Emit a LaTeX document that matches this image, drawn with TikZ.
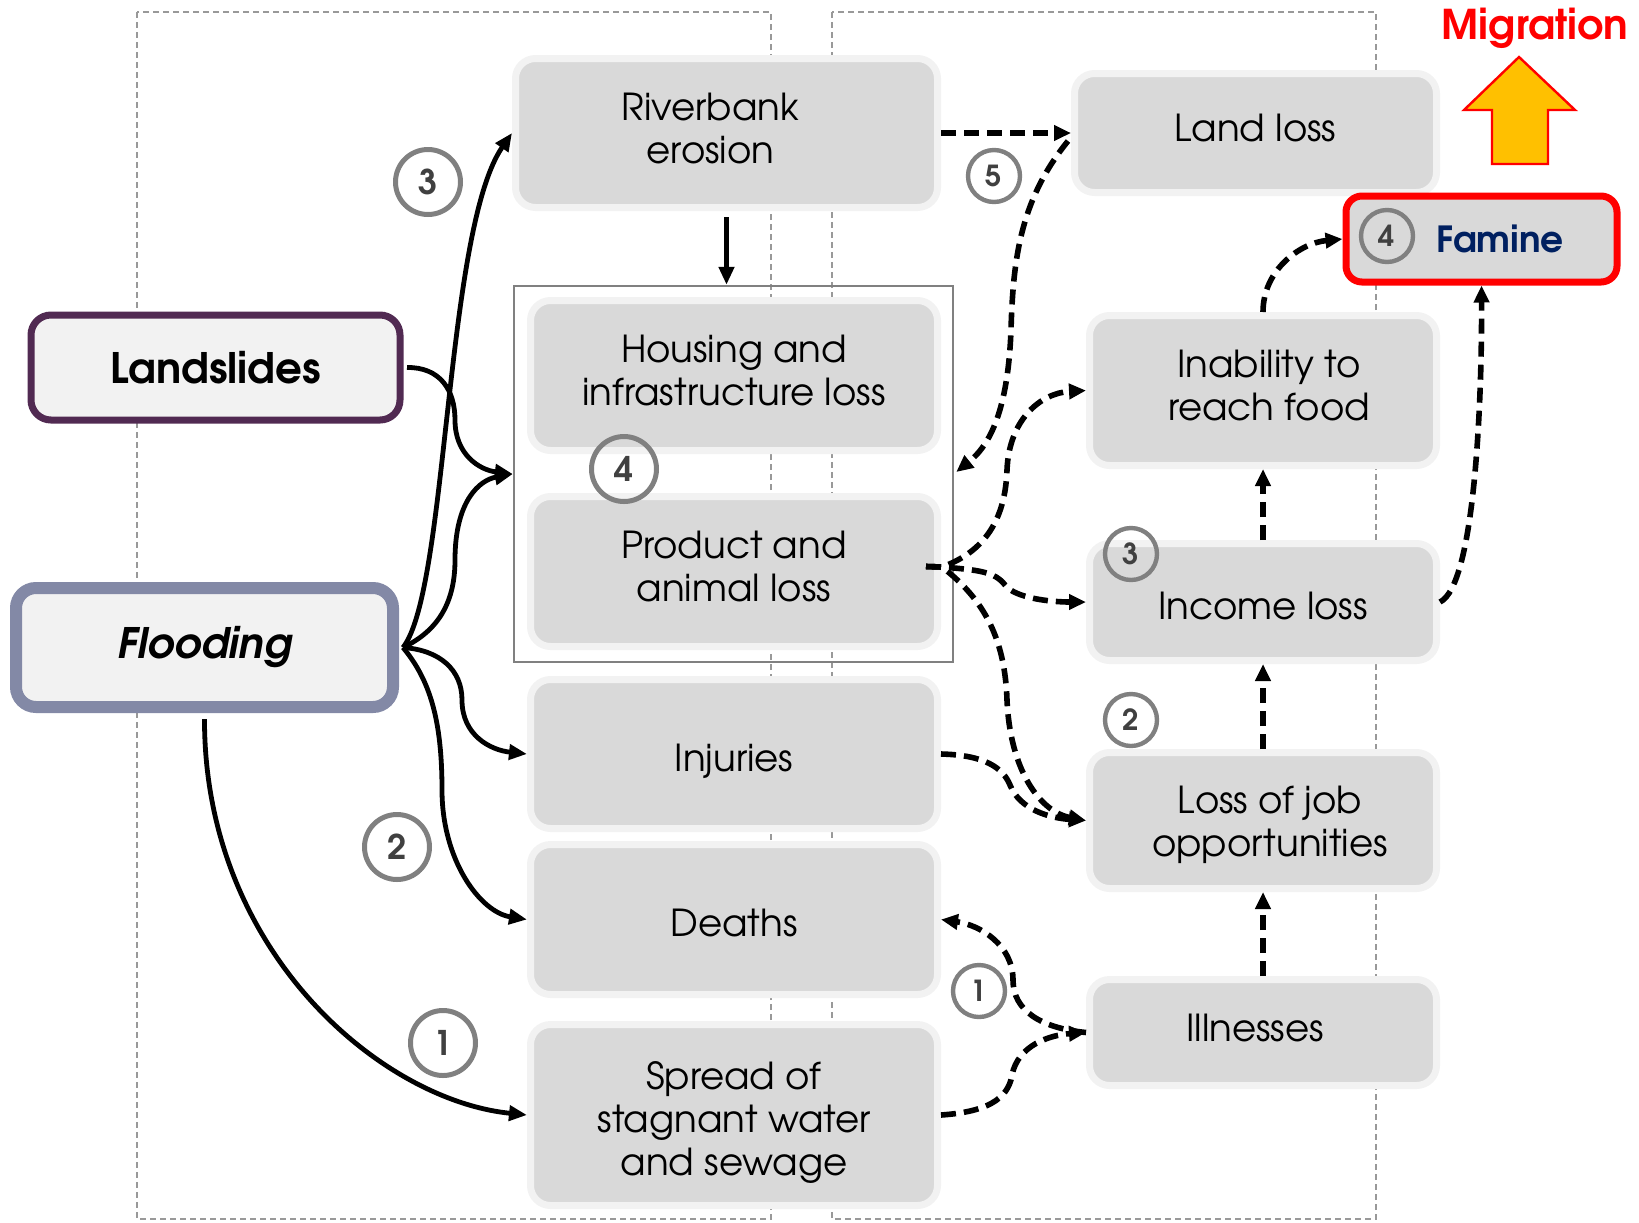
\documentclass[tikz,border=0pt]{standalone}
\usepackage{fontspec}
\setmainfont{texgyreadventor}[Extension=.otf, UprightFont=*-regular, BoldFont=*-bold, ItalicFont=*-italic, BoldItalicFont=*-bolditalic]
\usetikzlibrary{arrows.meta,calc}
\definecolor{boxgray}{HTML}{D9D9D9}
\definecolor{boxborder}{HTML}{F2F2F2}
\definecolor{numgray}{HTML}{808080}
\definecolor{numtext}{HTML}{404040}
\definecolor{lspurple}{HTML}{512A52}
\definecolor{flslate}{HTML}{8389A6}
\definecolor{navyblue}{HTML}{002060}
\definecolor{migred}{HTML}{FF0000}
\definecolor{arrowyellow}{HTML}{FFC000}
\definecolor{panelgray}{HTML}{999999}
\newcommand\mainsz{\fontsize{18.6}{21.5}\selectfont}
\newsavebox\btbox
% #1 horizontal shift, #2 vertical raise (box size kept), #3 lines
\newcommand\btxt[3]{\sbox\btbox{\begin{tabular}{@{}c@{}}#3\end{tabular}}\kern#1\raisebox{#2}[\ht\btbox][\dp\btbox]{\usebox\btbox}\kern-#1}
\tikzset{
  box/.style={rectangle, rounded corners=10pt, fill=boxgray, draw=boxborder, line width=3.5pt, align=center, font=\mainsz, inner sep=0pt},
  srcbox/.style={rectangle, rounded corners=10pt, fill=boxborder, align=center, inner sep=0pt, font=\fontsize{21}{24}\selectfont\bfseries},
  numbig/.style={circle, draw=numgray, line width=2.5pt, minimum size=32.5pt, inner sep=0pt, text=numtext, font=\fontsize{17}{17}\selectfont\bfseries},
  numsmall/.style={circle, draw=numgray, line width=2.2pt, minimum size=26pt, inner sep=0pt, text=numtext, font=\fontsize{14.5}{14.5}\selectfont\bfseries},
  panel/.style={draw=panelgray, line width=0.9pt, dash pattern=on 3pt off 2pt},
  sarrow/.style={draw=black, line width=2.4pt, -{Triangle[length=9pt,width=7.5pt]}},
  darrow/.style={draw=black, line width=2.8pt, dash pattern=on 7.5pt off 4pt, -{Triangle[length=8.5pt,width=7.5pt]}}
}
\begin{document}
\begin{tikzpicture}[x=0.5pt,y=-0.5pt]
\useasboundingbox (0,0) rectangle (1639,1222);
% panels
\draw[panel] (137,12) rectangle (771,1219);
\draw[panel] (832,12) rectangle (1376,1219);
% container
\node[draw=numgray, line width=1.2pt, minimum width=219.5pt, minimum height=188pt, inner sep=0pt] (cont) at (733.5,474) {};
% middle boxes
\node[box, minimum width=211pt, minimum height=74.5pt] (river) at (726.5,133) {\btxt{-8pt}{0pt}{Riverbank\\erosion}};
\node[box, minimum width=203.5pt, minimum height=75pt] (house) at (734,375.5) {\btxt{0pt}{0pt}{Housing and\\infrastructure loss}};
\node[box, minimum width=203.5pt, minimum height=75pt] (prod) at (734,571.5) {\btxt{0pt}{0pt}{Product and\\animal loss}};
\node[box, minimum width=203.5pt, minimum height=74.5pt] (inj) at (734,754) {\btxt{0pt}{-4.2pt}{Injuries}};
\node[box, minimum width=203.5pt, minimum height=75pt] (death) at (734,919.5) {\btxt{0pt}{-4.2pt}{Deaths}};
\node[box, minimum width=203.5pt, minimum height=90.5pt] (spread) at (734,1115) {\btxt{0pt}{-4.2pt}{Spread of\\stagnant water\\and sewage}};
% right boxes
\node[box, minimum width=181pt, minimum height=59.5pt] (land) at (1255.5,133) {\btxt{0pt}{0pt}{Land loss}};
\node[box, minimum width=173.5pt, minimum height=75pt] (inab) at (1263,390.5) {\btxt{3pt}{0pt}{Inability to\\reach food}};
\node[box, minimum width=173.5pt, minimum height=58.5pt] (inc) at (1263,602) {\btxt{0pt}{-4.2pt}{Income loss}};
\node[box, minimum width=173.5pt, minimum height=68pt] (job) at (1263,820.5) {\btxt{3.5pt}{-3.1pt}{Loss of job\\opportunities}};
\node[box, minimum width=173.5pt, minimum height=53pt] (ill) at (1263,1032.5) {\btxt{-4pt}{0pt}{Illnesses}};
% sources
\node[srcbox, draw=lspurple, line width=3.5pt, minimum width=184.5pt, minimum height=52.5pt] (lands) at (215.5,367.5) {Landslides};
\node[srcbox, draw=flslate, line width=6pt, minimum width=188.5pt, minimum height=59.5pt] (flood) at (204.5,647.5) {\itshape Flooding};
% famine
\node[rectangle, rounded corners=8pt, draw=migred, fill=boxgray, line width=3.5pt, minimum width=135.5pt, minimum height=43pt] (fam) at (1481.5,239) {};
\node[text=navyblue, font=\fontsize{18}{18}\selectfont\bfseries] (famtxt) at (1500,239) {Famine};
\node[numsmall] (c4b) at (1387,236) {4};
% migration
\node[text=migred, font=\fontsize{20.5}{20.5}\selectfont\bfseries] (mig) at (1535,28) {Migration};
\draw[fill=arrowyellow, draw=migred, line width=1.2pt] (1519,57) -- (1575,110) -- (1548,110) -- (1548,164) -- (1492,164) -- (1492,110) -- (1464,110) -- cycle;
% numbered circles
\node[numbig] (c3) at (428,182) {3};
\node[numsmall] (c5) at (994,176) {5};
\node[numbig] (c4) at (624,469) {4};
\node[numsmall] (c3b) at (1131,554) {3};
\node[numsmall] (c2b) at (1131,720) {2};
\node[numbig] (c2) at (397,847) {2};
\node[numbig] (c1) at (443,1043) {1};
\node[numsmall] (c1b) at (979,991) {1};
% helper coordinates
\coordinate (fe) at ($(flood.east)+(4,0)$);
\coordinate (fs) at ($(flood.south)+(0,6)$);
\coordinate (le) at ($(lands.east)+(3.5,0)$);
\coordinate (rs) at ($(river.south)+(0,6)$);
\coordinate (ce) at ($(cont.east)+(2,-2)$);
\coordinate (ps) at ($(prod.east)+(-15,-5)$);
\coordinate (pj) at (942,567);
\coordinate (lw) at ($(land.west)+(-3,8)$);
% solid connectors
\draw[sarrow] (fe) .. controls (448,590) and (445,230) .. (river.west);
\draw[sarrow] (le) .. controls (440,367) and (455,390) .. (455,420) .. controls (455,455) and (480,470) .. (cont.west);
\draw[sarrow] (fe) .. controls (440,630) and (455,600) .. (455,560) .. controls (455,500) and (480,480) .. (cont.west);
\draw[sarrow] (fe) .. controls (440,650) and (462,670) .. (462,700) .. controls (462,735) and (490,750) .. (inj.west);
\draw[sarrow] (fe) .. controls (430,680) and (442,720) .. (442,790) .. controls (442,860) and (480,912) .. (death.west);
\draw[sarrow] (fs) .. controls (204,950) and (380,1100) .. (spread.west);
\draw[sarrow] (rs) -- (rs |- cont.north);
% dashed connectors
\draw[darrow] (river.east) -- (land.west);
\draw[darrow] (lw) .. controls (1020,200) and (1013,260) .. (1011,330) .. controls (1008,410) and (990,445) .. (ce);
\draw[darrow] (ps) -- (pj) .. controls (975,555) and (1005,530) .. (1007,470) .. controls (1009,420) and (1040,393) .. (inab.west);
\draw[darrow] (ps) -- (pj) .. controls (980,570) and (995,572) .. (1005,585) .. controls (1015,598) and (1050,602) .. (inc.west);
\draw[darrow] (ps) -- (pj) .. controls (985,600) and (1005,640) .. (1007,700) .. controls (1010,770) and (1040,812) .. (job.west);
\draw[darrow] (inj.east) .. controls (985,755) and (1003,768) .. (1010,785) .. controls (1020,810) and (1050,818) .. (job.west);
\draw[darrow] (ill.west) .. controls (1040,1028) and (1013,1010) .. (1013,980) .. controls (1013,945) and (980,925) .. (death.east);
\draw[darrow] (spread.east) .. controls (985,1112) and (1008,1100) .. (1012,1075) .. controls (1018,1045) and (1050,1035) .. (ill.west);
\draw[darrow] (ill.north) -- (job.south);
\draw[darrow] (job.north) -- (inc.south);
\draw[darrow] (inc.north) -- (inab.south);
\draw[darrow] (inab.north) .. controls (1263,270) and (1300,243) .. (fam.west);
\draw[darrow] (inc.east) .. controls (1475,585) and (1482,400) .. (fam.south);
\end{tikzpicture}
\end{document}
